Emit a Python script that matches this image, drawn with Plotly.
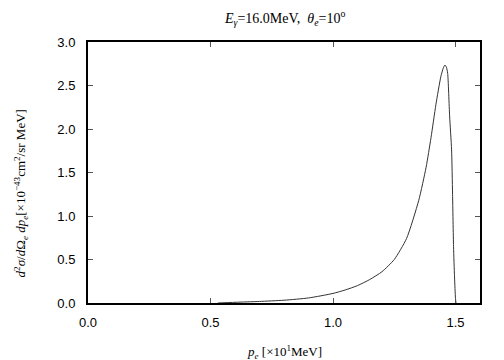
import plotly.graph_objects as go

p_e = [0.53, 0.60, 0.70, 0.80, 0.90, 1.00, 1.05, 1.10, 1.15, 1.20, 1.25, 1.30,
       1.35, 1.38, 1.40, 1.42, 1.44, 1.450, 1.457, 1.463, 1.468, 1.476, 1.484,
       1.488, 1.492, 1.496, 1.500, 1.502]
xsec = [0.0, 0.008, 0.018, 0.032, 0.058, 0.11, 0.15, 0.20, 0.27, 0.36, 0.50, 0.74,
        1.18, 1.56, 1.90, 2.28, 2.60, 2.70, 2.735, 2.71, 2.64, 2.15, 1.76,
        1.25, 0.65, 0.30, 0.05, 0.0]

x_ticks = [0.0, 0.5, 1.0, 1.5]
y_ticks = [0.0, 0.5, 1.0, 1.5, 2.0, 2.5, 3.0]

fig = go.Figure()
fig.add_trace(go.Scatter(x=p_e, y=xsec, mode="lines", line_shape="spline",
                         line=dict(color="#333333", width=1, smoothing=0.6), showlegend=False))

axis_common = dict(showgrid=False, zeroline=False, showline=True, linecolor="black",
                   linewidth=2, mirror="ticks", ticks="inside", ticklen=5,
                   tickcolor="#555555", tickwidth=1,
                   tickfont=dict(family="Liberation Sans, Arial, sans-serif", size=13, color="black"))

fig.update_layout(
    width=504, height=360,
    margin=dict(l=80, r=32, t=34, b=65),
    paper_bgcolor="white", plot_bgcolor="white",
    xaxis=dict(range=[0, 1.6], tickvals=x_ticks, ticklabelstandoff=6,
               ticktext=[f"{v:.1f}" for v in x_ticks], **axis_common),
    yaxis=dict(range=[0, 3.0], tickvals=y_ticks, ticklabelstandoff=8,
               ticktext=[f"{v:.1f}" for v in y_ticks], **axis_common),
    font=dict(family="Liberation Serif, Times New Roman, serif", color="black"),
)

serif = dict(family="Liberation Serif, Times New Roman, serif", size=13, color="black")

fig.add_annotation(text="<i>E</i><sub><i>γ</i></sub>=16.0MeV,  <i>θ</i><sub><i>e</i></sub>=10<sup>o</sup>",
                   xref="paper", yref="paper", x=0.5, y=1.0, yshift=24,
                   showarrow=False, font=dict(serif, size=14), xanchor="center", yanchor="middle")

fig.add_annotation(text="<i>p</i><sub><i>e</i></sub> [×10<sup>1</sup>MeV]",
                   xref="paper", yref="paper", x=0.5, y=0, yshift=-49,
                   showarrow=False, font=serif, xanchor="center", yanchor="middle")

fig.add_annotation(text="<i>d</i><sup>2</sup><i>σ</i>/<i>d</i>Ω<sub><i>e</i></sub> <i>dp</i><sub><i>e</i></sub>[×10<sup>−43</sup>cm<sup>2</sup>/sr MeV]",
                   xref="paper", yref="paper", x=0, xshift=-67, y=0.42,
                   showarrow=False, font=serif, textangle=-90,
                   xanchor="center", yanchor="middle")

fig.write_html("out.html")
